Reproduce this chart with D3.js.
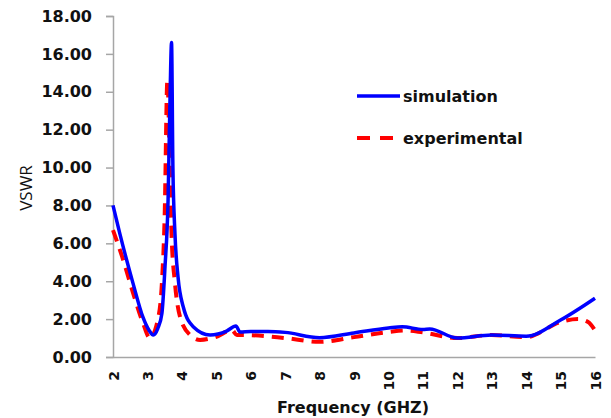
<!DOCTYPE html>
<html>
<head>
<meta charset="utf-8">
<script src="https://cdn.jsdelivr.net/npm/d3@7"></script>
<style>
  body { margin: 0; background: #fff; }
  svg { display: block; }
</style>
</head>
<body>
<svg id="chart" width="611" height="418"></svg>
<script>
// ---- data ----
const xTicks = [2, 3, 4, 5, 6, 7, 8, 9, 10, 11, 12, 13, 14, 15, 16];
const yTicks = [0, 2, 4, 6, 8, 10, 12, 14, 16, 18];

const simFreq = [2, 2.2, 2.58, 2.87, 3.05, 3.17, 3.3, 3.42, 3.51, 3.6, 3.66, 3.7, 3.74, 3.8, 3.89, 4.04, 4.33, 4.82, 5.3, 5.57, 5.69, 6, 6.5, 7, 8, 9, 10, 10.4, 11, 11.2, 12, 13, 14, 15, 16];
const simVswr = [8.0, 6.5, 3.9, 2.1, 1.4, 1.16, 1.5, 2.3, 4.75, 8.3, 14.0, 16.6, 10.0, 6.5, 4.2, 2.65, 1.6, 1.16, 1.37, 1.64, 1.32, 1.35, 1.35, 1.3, 1.02, 1.27, 1.53, 1.6, 1.45, 1.48, 1.0, 1.16, 1.1, 1.95, 3.1];

const expFreq = [2, 2.3, 2.58, 2.87, 3.07, 3.3, 3.42, 3.5, 3.58, 3.65, 3.7, 3.8, 3.95, 4.24, 4.53, 5.0, 5.45, 5.6, 6, 7, 8, 9, 10, 10.5, 11, 12, 13, 14, 15, 15.5, 15.8, 16];
const expVswr = [6.7, 5.1, 3.4, 1.8, 1.0, 1.95, 3.9, 7.4, 14.6, 10.0, 6.5, 3.9, 2.1, 1.16, 0.9, 1.07, 1.42, 1.16, 1.15, 1.0, 0.8, 1.05, 1.32, 1.4, 1.3, 1.0, 1.16, 1.05, 1.85, 2.0, 1.85, 1.4];

const seriesNames = ["simulation", "experimental"];

// ---- layout ----
const svg = d3.select("#chart");
const x = d3.scaleLinear().domain([2, 16]).range([113, 595]);
const y = d3.scaleLinear().domain([0, 18]).range([357, 16]);
const axisColor = "#a6a6a6";
const tickFont = "'DejaVu Sans', Verdana, sans-serif";

// y axis
const yAxis = svg.append("g").attr("transform", "translate(113,0)")
  .call(d3.axisLeft(y).tickValues(yTicks).tickSize(7).tickPadding(14).tickFormat(d3.format(".2f")));
yAxis.select(".domain").attr("stroke", axisColor).attr("stroke-width", 1.5);
yAxis.selectAll(".tick line").attr("stroke", axisColor).attr("stroke-width", 1.5);
yAxis.selectAll(".tick text").attr("fill", "#111").style("font-family", tickFont)
  .style("font-size", "16px").style("font-weight", "bold");

// x axis
const xAxis = svg.append("g").attr("transform", "translate(0,357)")
  .call(d3.axisBottom(x).tickValues(xTicks).tickSize(0).tickSizeOuter(0));
xAxis.select(".domain").attr("stroke", axisColor).attr("stroke-width", 1.5);
xAxis.selectAll(".tick text")
  .attr("transform", "translate(0,14) rotate(-90)")
  .attr("x", 0).attr("y", 0).attr("dy", "0.36em")
  .attr("text-anchor", "end")
  .attr("fill", "#111").style("font-family", tickFont)
  .style("font-size", "14px").style("font-weight", "bold");

// axis titles
svg.append("text").attr("x", 353).attr("y", 413).attr("text-anchor", "middle")
  .style("font-family", tickFont).style("font-size", "16px").style("font-weight", "bold")
  .attr("fill", "#111").text("Frequency (GHZ)");
svg.append("text").attr("transform", "translate(32,188) rotate(-90)").attr("text-anchor", "middle")
  .style("font-family", "'Open Sans', 'DejaVu Sans', sans-serif").style("font-size", "17px")
  .attr("fill", "#111").text("VSWR");

// lines
const line = d3.line().x(d => x(d[0])).y(d => y(d[1])).curve(d3.curveMonotoneX);
const expData = expFreq.map((f, i) => [f, expVswr[i]]);
const simData = simFreq.map((f, i) => [f, simVswr[i]]);

svg.append("path").datum(expData).attr("d", line).attr("fill", "none")
  .attr("stroke", "#ff0000").attr("stroke-width", 4).attr("stroke-dasharray", "12,8");
svg.append("path").datum(simData).attr("d", line).attr("fill", "none")
  .attr("stroke", "#0000ff").attr("stroke-width", 3.5).attr("stroke-linejoin", "round");

// legend
const legend = svg.append("g");
legend.append("line").attr("x1", 357).attr("x2", 400).attr("y1", 96).attr("y2", 96)
  .attr("stroke", "#0000ff").attr("stroke-width", 3.5);
legend.append("line").attr("x1", 357).attr("x2", 400).attr("y1", 138).attr("y2", 138)
  .attr("stroke", "#ff0000").attr("stroke-width", 4).attr("stroke-dasharray", "13,10");
legend.append("text").attr("x", 403).attr("y", 102).style("font-family", tickFont)
  .style("font-size", "16px").style("font-weight", "bold").attr("fill", "#111").text(seriesNames[0]);
legend.append("text").attr("x", 403).attr("y", 144).style("font-family", tickFont)
  .style("font-size", "16px").style("font-weight", "bold").attr("fill", "#111").text(seriesNames[1]);
</script>
</body>
</html>
